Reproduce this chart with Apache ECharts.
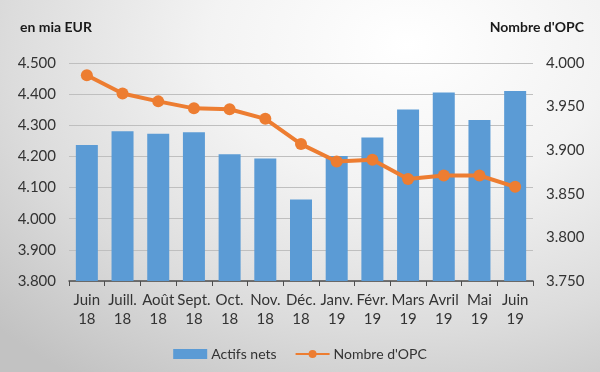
<!DOCTYPE html>
<html>
<head>
<meta charset="utf-8">
<script src="https://cdn.jsdelivr.net/npm/echarts@6/dist/echarts.min.js"></script>
<style>
html,body{margin:0;padding:0;}
#chart{width:600px;height:372px;background:radial-gradient(ellipse 95% 110% at 68% 12%, #ffffff 0%, #f3f3f3 35%, #dcdcdc 70%, #c2c2c2 100%);}
</style>
</head>
<body>
<div id="chart"></div>
<script>
const categories = ['Juin\n18','Juill.\n18','Août\n18','Sept.\n18','Oct.\n18','Nov.\n18','Déc.\n18','Janv.\n19','Févr.\n19','Mars\n19','Avril\n19','Mai\n19','Juin\n19'];
const actifsNets = [4237, 4281, 4273, 4278, 4207, 4193, 4062, 4201, 4261, 4351, 4405, 4317, 4410];
const nombreOPC = [3986, 3965, 3956, 3948, 3947, 3936, 3907, 3887, 3889, 3867, 3871, 3871, 3858];
const leftTicks = {min: 3800, max: 4500, interval: 100};
const rightTicks = {min: 3750, max: 4000, interval: 50};

const fmt = v => String(v).replace(/\B(?=(\d{3})+(?!\d))/g, '.');
const FONT = 'Lato, "Open Sans", sans-serif';

const chart = echarts.init(document.getElementById('chart'), null, {renderer: 'canvas'});
chart.setOption({
  backgroundColor: 'transparent',
  animation: false,
  textStyle: {fontFamily: FONT},
  grid: {left: 69, right: 67, top: 63, bottom: 91, containLabel: false},
  graphic: [
    {type: 'text', left: 20, top: 20, style: {text: 'en mia EUR', font: 'bold 14px ' + FONT, fill: '#1a1a1a'}},
    {type: 'text', right: 16, top: 20, style: {text: "Nombre d'OPC", font: 'bold 14px ' + FONT, fill: '#1a1a1a'}}
  ],
  legend: {
    bottom: 6,
    left: 'center',
    itemGap: 18,
    itemWidth: 34,
    itemHeight: 10,
    textStyle: {fontSize: 14, color: '#333', fontFamily: FONT, padding: [0, 0, 0, -1]},
    data: [
      {name: 'Actifs nets', icon: 'rect'},
      {name: "Nombre d'OPC"}
    ]
  },
  xAxis: {
    type: 'category',
    data: categories,
    boundaryGap: true,
    axisLine: {lineStyle: {color: '#4d4d4d', width: 1.5}},
    axisTick: {show: true, alignWithLabel: false, length: 5, lineStyle: {color: '#4d4d4d'}},
    axisLabel: {color: '#333', fontSize: 15, lineHeight: 19, margin: 10, interval: 0, fontFamily: FONT}
  },
  yAxis: [
    {
      type: 'value',
      min: leftTicks.min, max: leftTicks.max, interval: leftTicks.interval,
      axisLine: {show: false}, axisTick: {show: false},
      axisLabel: {color: '#333', fontSize: 15, margin: 13, formatter: fmt, fontFamily: FONT},
      splitLine: {lineStyle: {color: '#bfbfbf', width: 1.2}}
    },
    {
      type: 'value',
      min: rightTicks.min, max: rightTicks.max, interval: rightTicks.interval,
      axisLine: {show: false}, axisTick: {show: false},
      axisLabel: {color: '#333', fontSize: 15, margin: 13, formatter: fmt, fontFamily: FONT},
      splitLine: {show: false}
    }
  ],
  series: [
    {
      name: 'Actifs nets',
      type: 'bar',
      yAxisIndex: 0,
      data: actifsNets,
      barWidth: 22,
      itemStyle: {color: '#5B9BD5'}
    },
    {
      name: "Nombre d'OPC",
      type: 'line',
      yAxisIndex: 1,
      data: nombreOPC,
      symbol: 'circle',
      symbolSize: 12,
      lineStyle: {color: '#ED7D31', width: 4},
      itemStyle: {color: '#ED7D31'}
    }
  ]
});
</script>
</body>
</html>
